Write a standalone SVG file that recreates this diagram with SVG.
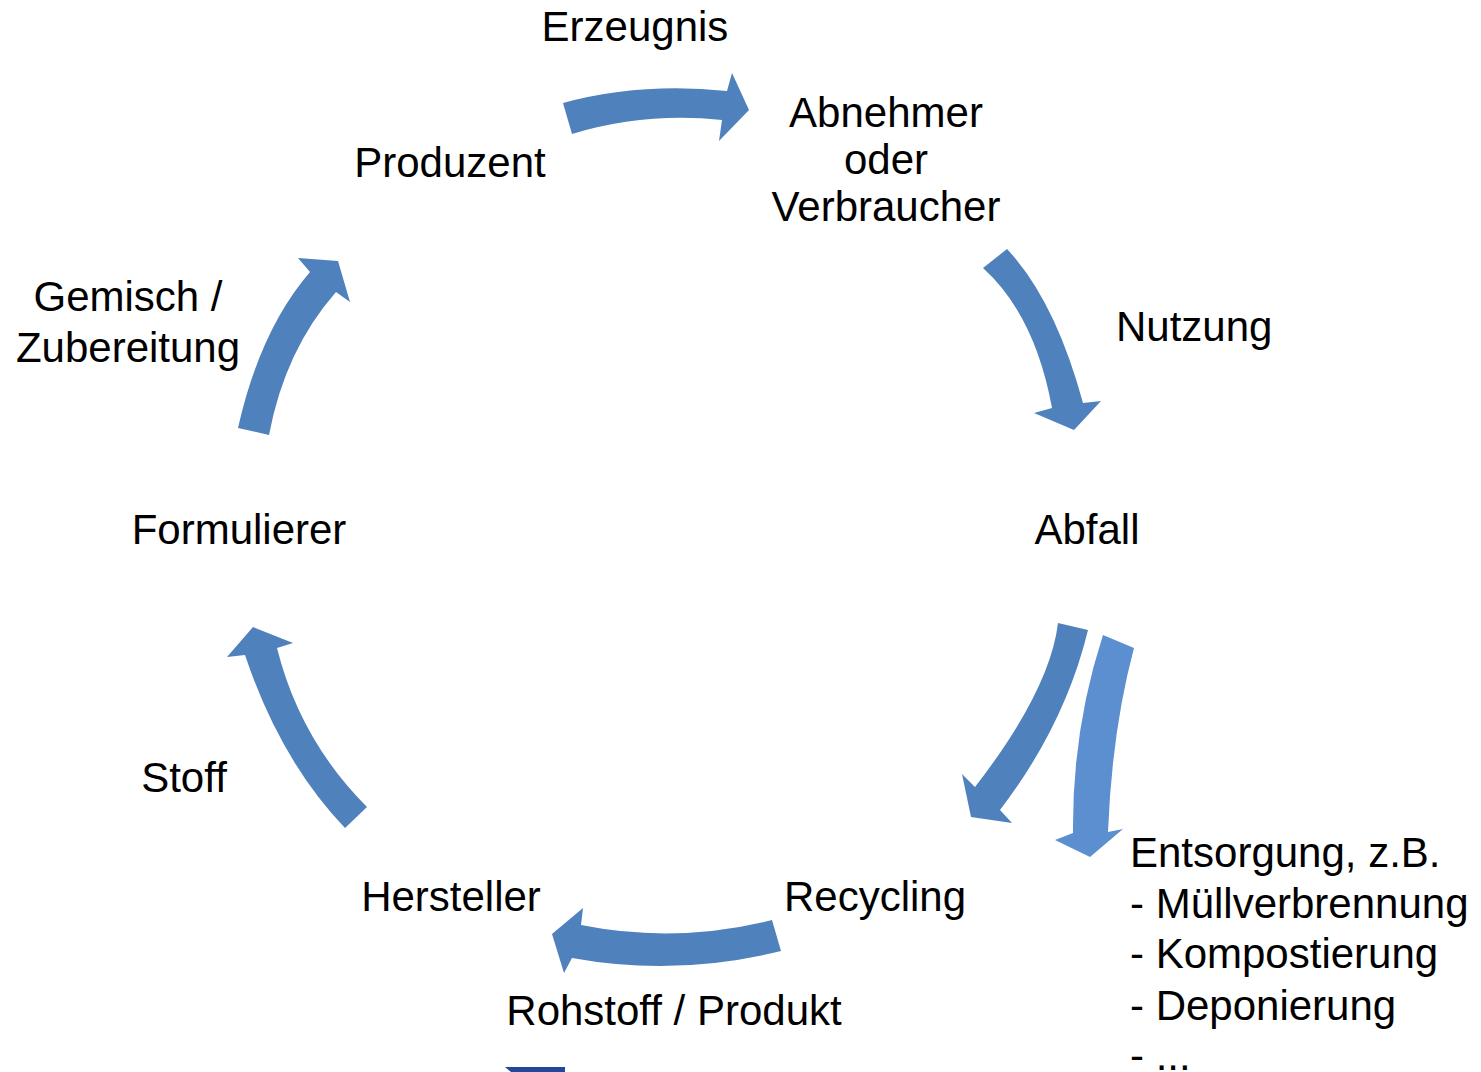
<svg xmlns="http://www.w3.org/2000/svg" width="1481" height="1072" viewBox="0 0 1481 1072">
<style>
text{font-family:"Liberation Sans",Arial,sans-serif;font-size:42px;fill:#000}
.m{text-anchor:middle}
.arr{fill:#4F81BD}
.arr2{fill:#5B8FD0}
</style>
<rect width="1481" height="1072" fill="#fff"/>
<g id="connectors">
<path class="arr" d="M563,103 Q640,82 727,91 L732,73 L749,110 L719,141 L722,120 Q645,112 572,134 Z"/>
<path class="arr" d="M1007,249 Q1055,300 1083,403 L1101,401 L1074,430 L1034,413 L1052,408 Q1035,315 983,268 Z"/>
<path class="arr" d="M1088,630 Q1065,725 1000,810 L1012,823 L971,817 L962,774 L975,787 Q1050,690 1058,623 Z"/>
<path class="arr" d="M781,951 Q676,977 572,958 L564,973 L552,934 L583,908 L581,925 Q676,944 772,920 Z"/>
<path class="arr" d="M345,828 Q280,760 245,655 L227,657 L253,627 L293,643 L277,648 Q300,740 367,807 Z"/>
<path class="arr" d="M238,428 Q260,330 310,272 L298,258 L338,261 L350,302 L336,292 Q285,350 269,435 Z"/>
<path class="arr2" d="M1103,635 L1134,648 Q1112,730 1108,832 L1123,829 L1090,857 L1055,840 L1073,833 Q1072,730 1103,635 Z"/>
</g>
<g id="n-erzeugnis"><text class="m" x="635" y="41">Erzeugnis</text></g>
<g id="n-produzent"><text class="m" x="450" y="177">Produzent</text></g>
<g id="n-abnehmer"><text class="m" x="886" y="127">Abnehmer</text><text class="m" x="886" y="174">oder</text><text class="m" x="886" y="221">Verbraucher</text></g>
<g id="n-nutzung"><text x="1116" y="341">Nutzung</text></g>
<g id="n-abfall"><text class="m" x="1087" y="544">Abfall</text></g>
<g id="n-formulierer"><text class="m" x="239" y="544">Formulierer</text></g>
<g id="n-gemisch"><text class="m" x="128" y="311">Gemisch /</text><text class="m" x="128" y="362">Zubereitung</text></g>
<g id="n-stoff"><text class="m" x="184" y="792">Stoff</text></g>
<g id="n-hersteller"><text class="m" x="451" y="911">Hersteller</text></g>
<g id="n-recycling"><text class="m" x="875" y="911">Recycling</text></g>
<g id="n-rohstoff"><text class="m" x="674" y="1025">Rohstoff / Produkt</text></g>
<g id="n-entsorgung">
<text x="1130" y="867">Entsorgung, z.B.</text>
<text x="1130" y="918">- Müllverbrennung</text>
<text x="1130" y="968">- Kompostierung</text>
<text x="1130" y="1020">- Deponierung</text>
<text x="1130" y="1070">- ...</text>
</g>
<polygon points="505,1067 565,1067 565,1072 511,1072" fill="#23479A"/>
</svg>
